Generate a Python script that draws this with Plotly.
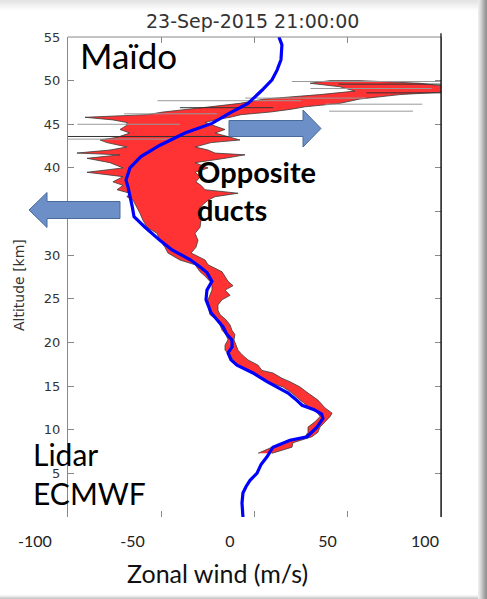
import plotly.graph_objects as go

# ---------------- data ----------------
ecmwf_alt = [0, 1.6, 2.75, 3.5, 4.2, 5.0, 6.0, 6.9, 8.0, 8.8, 9.2, 10.3, 11.3, 11.8, 12.3, 12.8, 13.5, 14.2,
             15.5, 16.5, 17.4, 18.0, 18.8, 19.5, 20.3, 21.0, 21.8, 22.6, 23.4, 24.9, 26.0, 27.0, 28.0, 28.8,
             29.5, 30.6, 31.7, 33.2, 34.4, 35.5, 36.3, 37.8, 38.6, 39.3, 40.0, 41.3, 42.6, 44.0, 45.1, 46.3,
             47.4, 48.9, 50.1, 51.2, 52.4, 54.1, 55.0]
ecmwf_u = [-6.2, -6.7, -6.2, -4.5, -2.4, 1.3, 3.5, 6.7, 9.9, 19.0, 28.2, 33.5, 36.7, 36.0, 32.0, 25.5, 22.0, 18.0,
           6.7, -0.8, -9.4, -12.6, -14.2, -12.0, -12.1, -15.0, -16.9, -20.0, -23.3, -26.0, -25.5, -22.8, -25.5, -30.0,
           -34.6, -44.2, -50.7, -58.7, -64.6, -65.5, -66.2, -67.8, -68.9, -68.0, -66.8, -60.9, -50.7, -37.3, -22.8, -13.1,
           -3.5, 4.0, 9.4, 12.1, 14.2, 14.7, 13.1]

lidar_alt = [7.3, 8.0, 8.5, 9.2, 9.7, 10.3, 10.9, 11.5, 11.9, 12.5, 13.4, 14.2, 14.9, 15.5, 15.9, 16.5, 16.8, 17.4,
             18.0, 18.6, 19.1, 19.7, 20.3, 20.9, 21.4, 22.0, 22.6, 23.2, 23.7, 24.3, 24.9, 25.4, 26.0, 26.5, 27.0,
             27.6, 28.1, 28.9, 29.45, 30.25, 30.9, 31.7, 32.5, 33.2, 34.0, 34.8, 35.5, 36.3, 36.7, 37.1, 37.5, 38.0,
             38.4, 39.0, 39.5, 40.0, 40.6, 41.1, 41.5, 41.7, 42.05, 42.4, 42.9, 43.2, 43.5, 44.0, 44.4, 44.9, 45.2,
             45.5, 45.8, 46.1, 46.4, 46.7, 47.0, 47.4, 47.9, 48.4, 48.8, 49.3, 49.7, 50.0]
lidar_lo = [1.9, 9.4, 16.4, 27.1, 28.7, 28.7, 32.4, 35.1, 34.0, 29.8, 24.4, 20.1, 15.3, 7.2, 4.0, 0.3, -3.5, -8.8,
            -11.5, -13.1, -15.8, -15.8, -14.2, -15.3, -17.4, -18.5, -20.6, -23.9, -24.4, -24.9, -24.9, -23.9, -22.8,
            -22.8, -23.9, -26.5, -29.2, -31.9, -40.0, -46.4, -48.0, -50.7, -52.3, -57.6, -59.8, -61.4, -63.0, -65.1,
            -68.4, -66.8, -73.7, -70.5, -75.9, -70.5, -89.8, -70.5, -77.5, -89.8, -72.1, -95.2, -77.5, -68.4, -79.1,
            -82.8, -73.7, -66.8, -72.1, -68.4, -68.4, -75.9, -90.9, -57.6, -49.1, -34.6, -23.9, -7.8, 5.6, 35.1,
            53.9, 45.8, 29.8, 40.5]
lidar_hi = [9.4, 20.1, 20.6, 30.8, 34.0, 35.1, 37.8, 40.5, 41.6, 37.8, 34.0, 28.7, 24.4, 19.0, 14.7, 9.9, 4.0, 1.9,
            -3.5, -6.7, -8.8, -9.9, -11.0, -10.5, -12.1, -13.1, -15.3, -18.5, -19.6, -19.6, -17.4, -13.1, -15.8,
            -11.5, -14.2, -15.8, -17.4, -24.9, -26.5, -34.0, -31.4, -30.3, -31.9, -29.2, -28.7, -30.3, -29.2, -24.9,
            -21.2, -8.8, -26.5, -28.7, -31.4, -29.2, -31.9, -24.9, -31.9, -15.8, -5.1, -21.2, -24.9, -31.9, -23.3,
            -7.8, -13.1, -21.2, -15.8, -22.8, -26.5, -21.2, -13.1, -7.2, 8.3, 19.0, 27.1, 45.8, 56.6, 78.0,
            110, 105, 88.7, 56.6]

# thin outlier segments of the lidar profile (altitude, start, end, dark?)
seg_alt = [49.9, 49.6, 49.1, 48.6, 48.0, 47.7, 47.3, 46.9, 46.5, 46.2, 45.0, 43.6, 43.3]
seg_x0 = [20, 45, 30, 60, -5, -52, 38, -40, 40, -70, -95, -100, -100]
seg_x1 = [110, 110, 95, 100, 60, 25, 90, 10, 85, -20, -40, -12, -45]
seg_dark = [False, True, False, True, False, False, False, True, False, False, False, True, False]

xtick_vals = [-100, -50, 0, 50, 100]
ytick_vals = [0, 5, 10, 15, 20, 25, 30, 35, 40, 45, 50, 55]

# ---------------- layout geometry (paper = whole figure) ----------------
W, H = 487, 599


def fx(p):
    return p / W


def fy(p):
    return 1 - p / H


fig = go.Figure()

# lidar band
fig.add_trace(go.Scatter(
    x=lidar_lo + lidar_hi[::-1], y=lidar_alt + lidar_alt[::-1],
    fill="toself", fillcolor="#ff3333", mode="lines",
    line=dict(color="#3a3a3a", width=0.8), hoverinfo="skip", showlegend=False))

for dark in (False, True):
    xs, ys = [], []
    for a, x0, x1, d in zip(seg_alt, seg_x0, seg_x1, seg_dark):
        if d == dark:
            xs += [x0, x1, None]
            ys += [a, a, None]
    fig.add_trace(go.Scatter(x=xs, y=ys, mode="lines",
                             line=dict(color="#333333" if dark else "#9a9a9a", width=1),
                             hoverinfo="skip", showlegend=False))

# ECMWF
fig.add_trace(go.Scatter(x=ecmwf_u, y=ecmwf_alt, mode="lines",
                         line=dict(color="#0000ff", width=3.2), showlegend=False))

# dummy trace for the separate tick-label axis
fig.add_trace(go.Scatter(x=[xtick_vals[0], xtick_vals[-1]], y=[None, None], xaxis="x2", yaxis="y",
                         mode="lines", showlegend=False, hoverinfo="skip"))

fig.update_layout(
    width=W, height=H,
    margin=dict(l=0, r=0, t=0, b=0, pad=0),
    paper_bgcolor="white", plot_bgcolor="rgba(0,0,0,0)",
    showlegend=False,
    xaxis=dict(domain=[fx(68), fx(441)], range=[-100, 100], anchor="y", automargin=False,
               tickvals=[-50, 0, 50], showticklabels=False, ticks="inside", ticklen=6,
               tickcolor="#888", mirror="ticks", showline=False, showgrid=False, zeroline=False),
    xaxis2=dict(domain=[fx(35), fx(425)], range=[-100, 100], anchor="free", position=fy(517),
                automargin=False,
                tickvals=xtick_vals, ticktext=[str(v) for v in xtick_vals],
                ticks="outside", ticklen=10, tickcolor="rgba(0,0,0,0)",
                showline=False, showgrid=False, zeroline=False,
                tickfont=dict(family="Lato", size=16, color="#222")),
    yaxis=dict(domain=[fy(517), fy(37)], range=[0, 55], anchor="x", automargin=False,
               tickvals=ytick_vals, ticktext=["" if v == 0 else str(v) for v in ytick_vals],
               ticks="inside", ticklen=6, tickcolor="#888", showline=True, linecolor="#888",
               linewidth=1, mirror="ticks", showgrid=False, zeroline=False,
               ticklabelstandoff=4,
               tickfont=dict(family="DejaVu Sans", size=13, color="#333")),
)

ann = []
ann.append(dict(text="23-Sep-2015 21:00:00", x=fx(252), y=fy(21), xref="paper", yref="paper",
                showarrow=False, xanchor="center", yanchor="middle",
                font=dict(family="DejaVu Sans", size=19, color="#333")))
ann.append(dict(text="Altitude [km]", x=fx(19), y=fy(285), xref="paper", yref="paper",
                showarrow=False, textangle=-90, xanchor="center", yanchor="middle",
                font=dict(family="DejaVu Sans", size=14, color="#333")))
ann.append(dict(text="Zonal wind (m/s)", x=fx(217), y=fy(573), xref="paper", yref="paper",
                showarrow=False, xanchor="center", yanchor="middle",
                font=dict(family="Lato", size=25, color="#111")))
ann.append(dict(text="Maïdo", x=fx(78), y=fy(55.5), xref="paper", yref="paper",
                showarrow=False, xanchor="left", yanchor="middle",
                font=dict(family="Lato", size=35, color="black")))
ann.append(dict(text="Lidar", x=fx(31), y=fy(454), xref="paper", yref="paper",
                showarrow=False, xanchor="left", yanchor="middle",
                font=dict(family="Lato", size=30, color="black")))
ann.append(dict(text="ECMWF", x=fx(31), y=fy(492.5), xref="paper", yref="paper",
                showarrow=False, xanchor="left", yanchor="middle",
                font=dict(family="Lato", size=30, color="black")))
ann.append(dict(text="<b>Opposite</b>", x=fx(195), y=fy(172), xref="paper", yref="paper",
                showarrow=False, xanchor="left", yanchor="middle",
                font=dict(family="Lato", size=29, color="black")))
ann.append(dict(text="<b>ducts</b>", x=fx(195), y=fy(210), xref="paper", yref="paper",
                showarrow=False, xanchor="left", yanchor="middle",
                font=dict(family="Lato", size=29, color="black")))
fig.update_layout(annotations=ann)


def arrow_path(x_tail, x_base, x_tip, yc, bh, hh):
    pts = [(x_tail, yc - bh / 2), (x_base, yc - bh / 2), (x_base, yc - hh / 2), (x_tip, yc),
           (x_base, yc + hh / 2), (x_base, yc + bh / 2), (x_tail, yc + bh / 2)]
    s = "M " + " L ".join(f"{fx(a):.5f},{fy(b):.5f}" for a, b in pts) + " Z"
    return s


shapes = []
for path in (arrow_path(229, 303, 321, 128.5, 16, 37), arrow_path(120, 47, 29, 210, 17, 35)):
    shapes.append(dict(type="path", path=path, xref="paper", yref="paper",
                       fillcolor="#6b8fc6", line=dict(color="#4a6a9c", width=1), layer="above"))

# frame lines
shapes.append(dict(type="line", xref="x domain", yref="y domain", x0=0, x1=1, y0=1, y1=1,
                   line=dict(color="#888", width=1)))
shapes.append(dict(type="line", xref="x domain", yref="y domain", x0=1, x1=1, y0=0, y1=1.008,
                   line=dict(color="#111", width=1.3)))

# slide shadow decoration
greys = [236, 228, 218, 205, 192, 178, 165, 155, 148]
for i, g in enumerate(greys):
    shapes.append(dict(type="rect", xref="paper", yref="paper", x0=fx(478 + i), x1=fx(479 + i),
                       y0=0, y1=1, fillcolor=f"rgb({g},{g},{g})", line=dict(width=0)))
for i, g in enumerate([228, 234, 240, 245, 250]):
    shapes.append(dict(type="rect", xref="paper", yref="paper", x0=0, x1=fx(478),
                       y0=fy(2 * i + 2), y1=fy(2 * i), fillcolor=f"rgb({g},{g},{g})", line=dict(width=0)))
for i, g in enumerate([245, 232, 215, 200]):
    shapes.append(dict(type="rect", xref="paper", yref="paper", x0=0, x1=fx(478),
                       y0=fy(596 + i), y1=fy(595 + i), fillcolor=f"rgb({g},{g},{g})", line=dict(width=0)))
fig.update_layout(shapes=shapes)

fig.write_html("out.html")
